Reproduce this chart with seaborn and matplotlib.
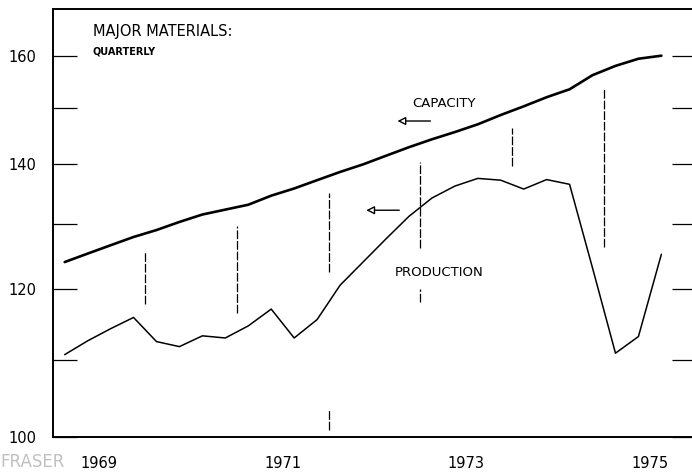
import pandas as pd
import matplotlib
matplotlib.use('Agg')
import matplotlib.pyplot as plt
import matplotlib.ticker as mticker
import seaborn as sns

# Quarterly index values (1969Q1 .. 1975Q3)
quarters = pd.period_range('1969Q1', '1975Q3', freq='Q')
capacity = [124.1, 125.4, 126.7, 128.0, 129.1, 130.4, 131.6, 132.4, 133.2,
            134.7, 135.9, 137.3, 138.7, 140.0, 141.5, 143.0, 144.4, 145.7,
            147.1, 148.8, 150.4, 152.1, 153.6, 156.3, 158.1, 159.5, 160.1]
production = [110.7, 112.6, 114.3, 115.9, 112.5, 111.8, 113.3, 113.0, 114.7,
              117.1, 113.0, 115.6, 120.6, 124.1, 127.7, 131.3, 134.3, 136.3,
              137.6, 137.3, 135.8, 137.4, 136.6, 123.2, 110.9, 113.2, 125.3]

# year-boundary marker segments (year, low, high)
marker_years = [1970, 1971, 1972, 1972, 1973, 1973, 1974, 1975]
marker_low = [117.8, 116.6, 122.6, 100.9, 126.2, 118.1, 139.7, 126.5]
marker_high = [125.8, 129.8, 135.1, 103.4, 140.5, 120.1, 146.4, 153.8]

year_labels = ['1969', '1971', '1973', '1975']
y_major = [100, 120, 140, 160]
y_minor = [110, 130, 150]

df = pd.DataFrame({
    't': [p.year + (p.quarter - 0.5) / 4 for p in quarters],
    'capacity': capacity,
    'production': production,
})

sns.set_style('white')
plt.rcParams['font.family'] = ['DejaVu Sans']
plt.rcParams['text.color'] = 'black'
plt.rcParams['xtick.color'] = 'black'
plt.rcParams['ytick.color'] = 'black'

fig = plt.figure(figsize=(6.92, 4.72), dpi=100)
ax = fig.add_axes([53.2 / 692, 35 / 472, (695.8 - 53.2) / 692, (463 - 35) / 472])

sns.lineplot(data=df, x='t', y='capacity', ax=ax, color='black', linewidth=1.9)
sns.lineplot(data=df, x='t', y='production', ax=ax, color='black', linewidth=1.1)

ax.vlines(marker_years, marker_low, marker_high, color='black',
          linewidth=0.9, linestyles=(0, (7, 1.5)))

ax.set_yscale('log')
ax.set_xlim(1969, 1976)
ax.set_ylim(100, 169.6)

ax.yaxis.set_major_locator(mticker.FixedLocator(y_major))
ax.yaxis.set_major_formatter(mticker.FixedFormatter([str(v) for v in y_major]))
ax.yaxis.set_minor_locator(mticker.FixedLocator(y_minor))
ax.yaxis.set_minor_formatter(mticker.NullFormatter())
ax.tick_params(axis='y', which='both', direction='in', length=17, width=0.9,
               left=True, right=True, labelsize=10.5, pad=12,
               labelcolor='black')

ax.set_xticks([int(y) + 0.5 for y in year_labels])
ax.set_xticklabels(year_labels)
ax.tick_params(axis='x', length=0, labelsize=10.5, pad=14, labelcolor='black')

ax.set_xlabel('')
ax.set_ylabel('')
for s in ax.spines.values():
    s.set_visible(True)
    s.set_color('black')
    s.set_linewidth(1.4)

# annotations
ax.text(1969.43, 165.0, 'MAJOR MATERIALS:', fontsize=10.5, ha='left', va='center')
ax.text(1969.43, 161.0, 'QUARTERLY', fontsize=7, fontweight='bold',
        ha='left', va='center')
ax.text(1973.26, 151.0, 'CAPACITY', fontsize=9.5, ha='center', va='center')
ax.text(1973.2, 122.5, 'PRODUCTION', fontsize=9.5, ha='center', va='center')

arrow = dict(arrowstyle='-|>', color='black', lw=1.0, fc='white',
             mutation_scale=12)
ax.annotate('', xy=(1972.72, 147.7), xytext=(1973.14, 147.7), arrowprops=arrow)
ax.annotate('', xy=(1972.38, 132.3), xytext=(1972.80, 132.3), arrowprops=arrow)

fig.text(0.0, 0.002, 'FRASER', fontsize=12, color='#c0c0c0', ha='left', va='bottom')

fig.savefig('out.png', dpi=100)
